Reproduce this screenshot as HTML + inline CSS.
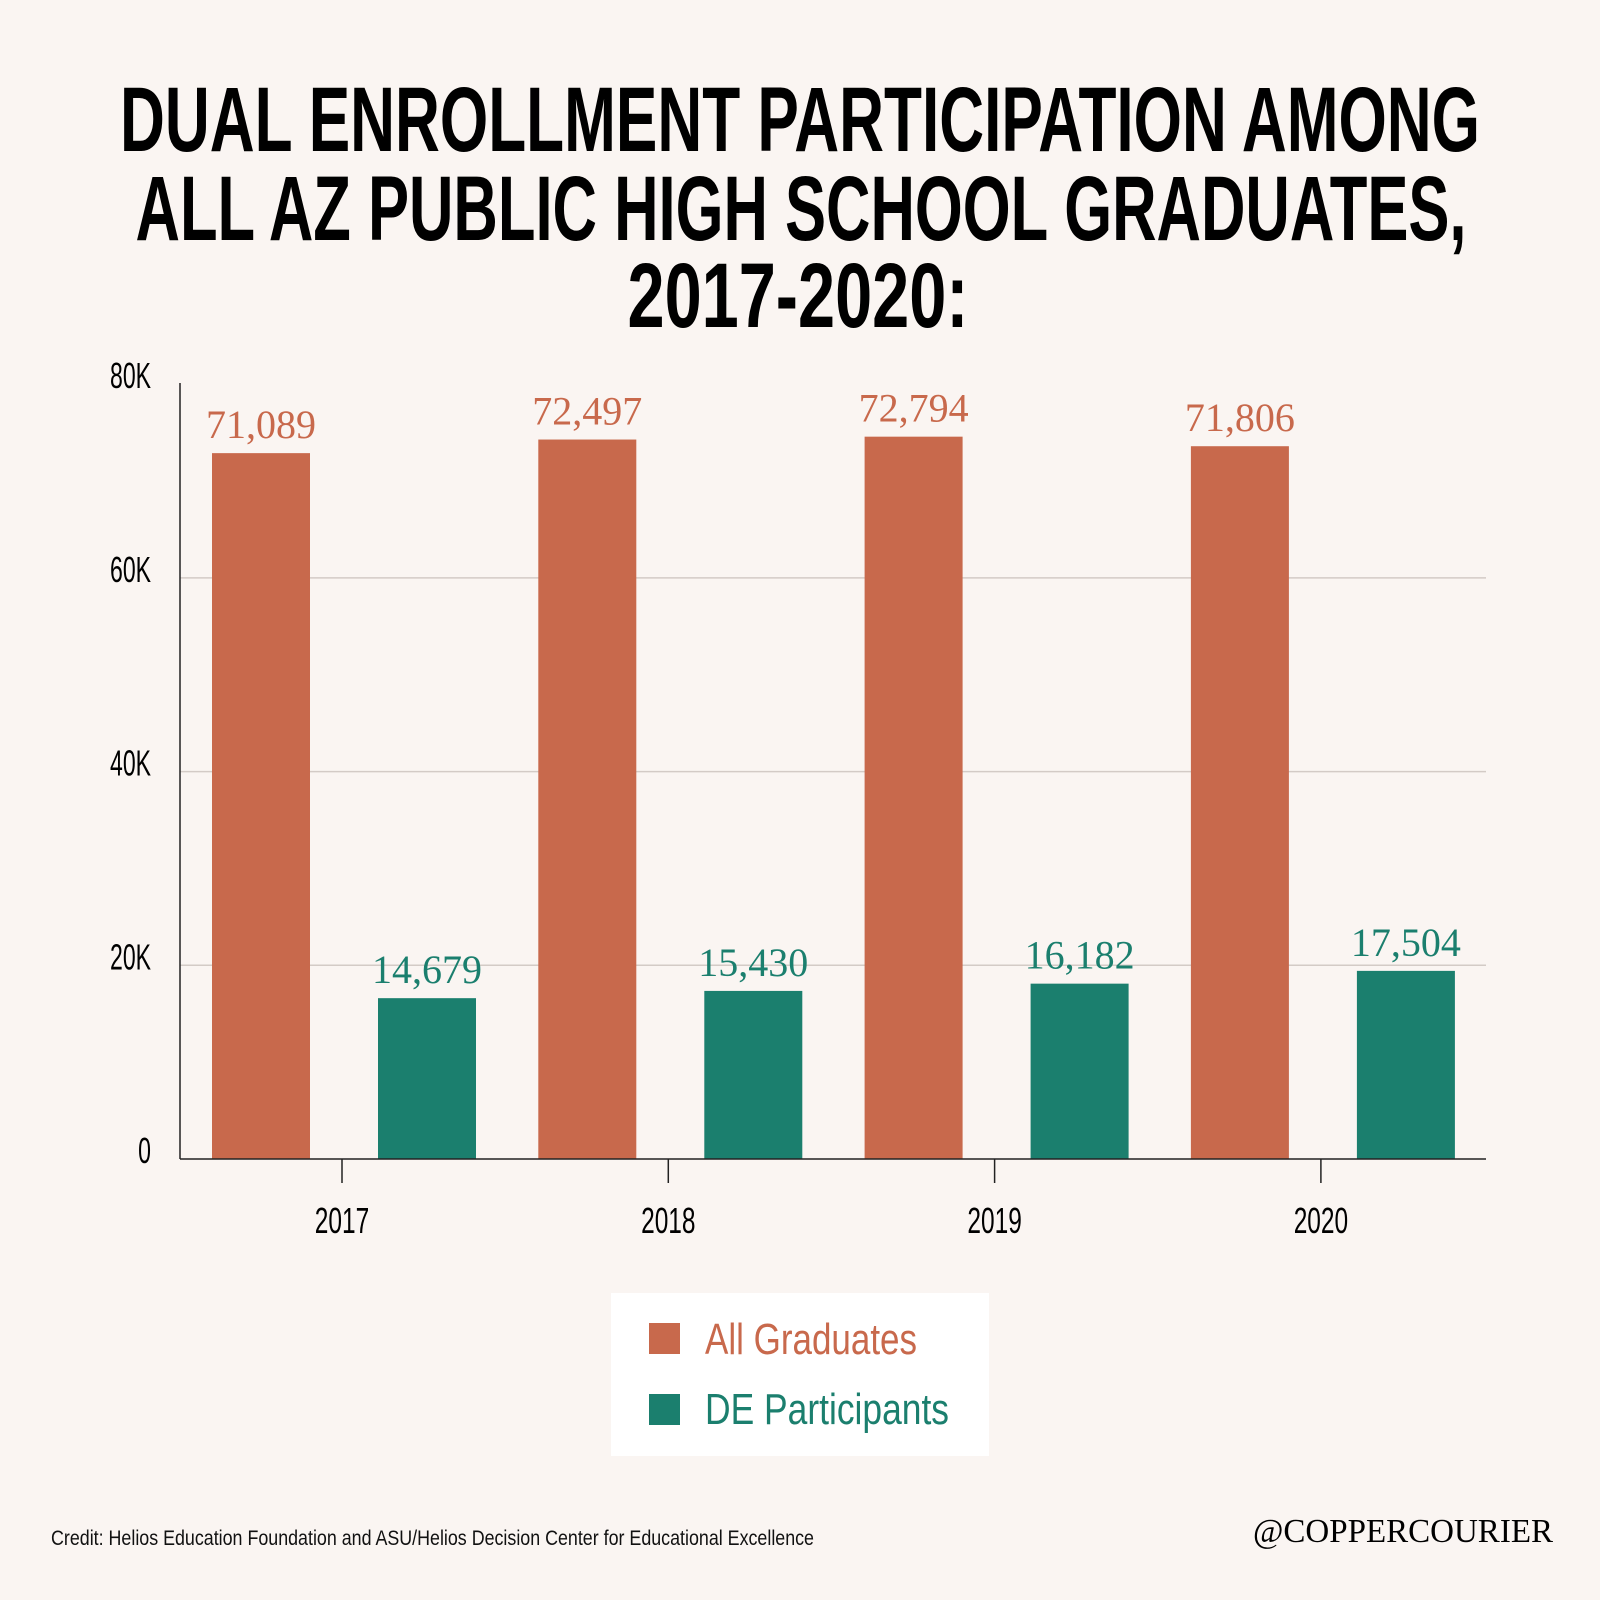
<!DOCTYPE html>
<html><head><meta charset="utf-8"><style>
html,body{margin:0;padding:0;background:#faf5f2;}
svg{display:block;}
</style></head><body>
<svg id="chart" width="1600" height="1600" viewBox="0 0 1600 1600" xmlns="http://www.w3.org/2000/svg">
<rect width="1600" height="1600" fill="#faf5f2"/>
<g font-family="Liberation Sans, sans-serif" font-weight="bold" fill="#000" font-size="92" text-anchor="middle">
<text x="800" y="151" textLength="1360" lengthAdjust="spacingAndGlyphs">DUAL ENROLLMENT PARTICIPATION AMONG</text>
<text x="801" y="240" textLength="1331" lengthAdjust="spacingAndGlyphs">ALL AZ PUBLIC HIGH SCHOOL GRADUATES,</text>
<text x="798" y="327" textLength="341" lengthAdjust="spacingAndGlyphs">2017-2020:</text>
</g>
<g id="grid"></g>
<g id="bars"></g>
<g id="axes"></g>
<g>
<rect x="611" y="1293" width="378" height="163" fill="#ffffff"/>
<rect x="649" y="1323" width="31" height="31" fill="#c8694c"/>
<text x="705" y="1354" font-family="Liberation Sans, sans-serif" font-size="44" fill="#c8694c" textLength="212" lengthAdjust="spacingAndGlyphs">All Graduates</text>
<rect x="649" y="1394" width="31" height="31" fill="#1b7f6e"/>
<text x="705" y="1424" font-family="Liberation Sans, sans-serif" font-size="44" fill="#1b7f6e" textLength="244" lengthAdjust="spacingAndGlyphs">DE Participants</text>
</g>
<text x="51" y="1545" font-family="Liberation Sans, sans-serif" font-size="21" fill="#111" textLength="763" lengthAdjust="spacingAndGlyphs">Credit: Helios Education Foundation and ASU/Helios Decision Center for Educational Excellence</text>
<text x="1253" y="1542" font-family="Liberation Serif, serif" font-size="34" fill="#000" textLength="300" lengthAdjust="spacingAndGlyphs">@COPPERCOURIER</text>
</svg>
<script>
const categories = ['2017','2018','2019','2020'];
const allGraduates = [71089, 72497, 72794, 71806];
const deParticipants = [14679, 15430, 16182, 17504];
const yTicks = [0, 20000, 40000, 60000, 80000];
const yTickLabels = ['0','20K','40K','60K','80K'];
const allLabels = ['71,089','72,497','72,794','71,806'];
const deLabels = ['14,679','15,430','16,182','17,504'];

const NS = 'http://www.w3.org/2000/svg';
const BASE = 1159, X0 = 180, X1 = 1486;
function yAxis(v){ return BASE - v * 0.009685; }
function yBar(v){ return BASE - 19 - v * 0.009662; }
function xGroup(i){ return 344 + i * 326.3; }
function mk(tag, attrs, parent){
  const e = document.createElementNS(NS, tag);
  for (const k in attrs) e.setAttribute(k, attrs[k]);
  parent.appendChild(e); return e;
}
const grid = document.getElementById('grid');
const bars = document.getElementById('bars');
const axes = document.getElementById('axes');

yTicks.forEach((t, i) => {
  const y = yAxis(t);
  if (t > 0 && t < 80000) {
    const g = mk('line', {x1: X0, x2: X1, y1: y, y2: y, stroke: '#d3cbc6', 'stroke-width': 1.5}, grid);
    
    
  }
  const tx = mk('text', {x: 0, y: 0, 'text-anchor': 'end', 'font-family': 'Liberation Sans, sans-serif', 'font-size': 36, fill: '#000', transform: 'translate(151,' + (y + 4) + ') scale(0.64,1)'}, axes);
  tx.textContent = yTickLabels[i];
  
  
});

categories.forEach((c, i) => {
  const cx = xGroup(i);
  const bw = 98;
  const ax = cx - 132, dx = cx + 34;
  const ya = yBar(allGraduates[i]);
  const r1 = mk('rect', {x: ax, y: ya, width: bw, height: BASE - ya, fill: '#c8694c'}, bars);
  
  
  const l1 = mk('text', {x: ax + bw/2, y: ya - 15, 'text-anchor': 'middle', 'font-family': 'Liberation Serif, serif', 'font-size': 40, fill: '#c8694c'}, bars);
  l1.textContent = allLabels[i];
  
  
  const yd = yBar(deParticipants[i]);
  const r2 = mk('rect', {x: dx, y: yd, width: bw, height: BASE - yd, fill: '#1b7f6e'}, bars);
  
  
  const l2 = mk('text', {x: dx + bw/2, y: yd - 15, 'text-anchor': 'middle', 'font-family': 'Liberation Serif, serif', 'font-size': 40, fill: '#1b7f6e'}, bars);
  l2.textContent = deLabels[i];
  
  
  const tk = mk('line', {x1: cx - 2, x2: cx - 2, y1: BASE, y2: BASE + 24, stroke: '#222', 'stroke-width': 1.5}, axes);
  
  
  const xl = mk('text', {x: 0, y: 0, 'text-anchor': 'middle', 'font-family': 'Liberation Sans, sans-serif', 'font-size': 36, fill: '#000', transform: 'translate(' + (cx - 2) + ',1233) scale(0.68,1)'}, axes);
  xl.textContent = c;
  
  
});

const ya = mk('line', {x1: X0, x2: X0, y1: 383, y2: BASE, stroke: '#222', 'stroke-width': 1.5}, axes);


const xa = mk('line', {x1: X0, x2: X1, y1: BASE, y2: BASE, stroke: '#222', 'stroke-width': 1.5}, axes);


</script>
</body></html>
